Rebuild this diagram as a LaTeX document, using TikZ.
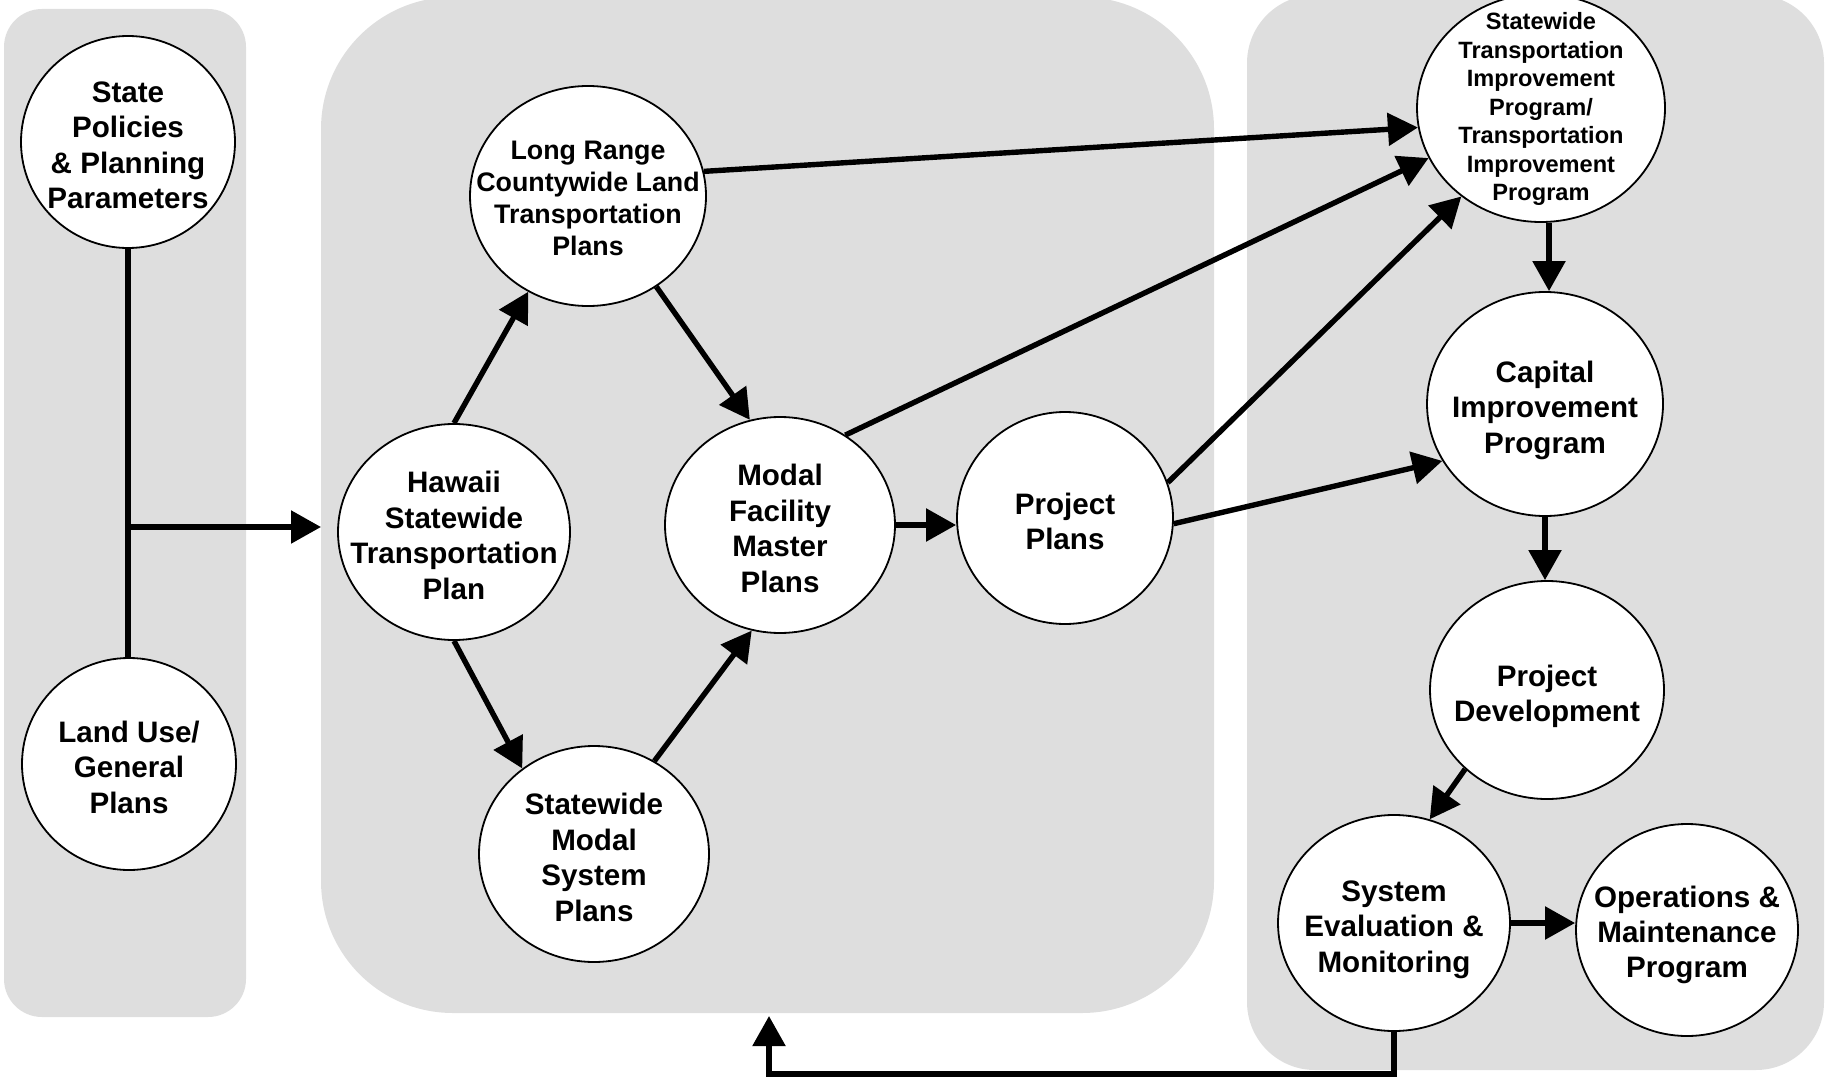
\documentclass[tikz,border=0pt]{standalone}
\usepackage{fontspec}
\setmainfont{Liberation Sans}
\usetikzlibrary{shapes.geometric,arrows.meta}
\definecolor{panelgray}{RGB}{222,222,222}
\begin{document}
\begin{tikzpicture}[x=0.5pt,y=-0.5pt,
  bub/.style 2 args={ellipse, draw=black, line width=0.9pt, fill=white,
    inner sep=0pt, minimum width=#1pt, minimum height=#2pt},
  txt/.style={font=\fontsize{14.8}{17.7}\selectfont\bfseries, align=center, inner sep=0pt, yshift=-1.7pt},
  txtsmall/.style={font=\fontsize{13.4}{16}\selectfont\bfseries, align=center, inner sep=0pt, yshift=-1pt},
  txttiny/.style={font=\fontsize{11.8}{14.25}\selectfont\bfseries, align=center, inner sep=0pt, yshift=-0.5pt},
  conn/.style={line width=2.7pt},
  arr/.style={conn, -{Triangle[length=15pt,width=16pt]}}
]
\useasboundingbox (0,0) rectangle (1831,1081);

% grey background panels
\begin{scope}
  \clip (0,0) rectangle (1831,1081);
  \fill[panelgray, rounded corners=19pt] (4,9) rectangle (246,1017);
  \fill[panelgray, rounded corners=66pt] (321,-3) rectangle (1214,1013);
  \fill[panelgray, rounded corners=34pt] (1247,-5) rectangle (1824,1070);
\end{scope}

% planning elements
\node[bub={107}{106}, label={[txt]center:{State\\Policies\\\& Planning\\Parameters}}] (sp) at (128,142) {};
\node[bub={107}{106}, label={[txt]center:{Land Use/\\General\\Plans}}] (lu) at (129,764) {};
\node[bub={118}{110}, label={[txtsmall]center:{Long Range\\Countywide Land\\Transportation\\Plans}}] (lr) at (588,196) {};
\node[bub={116}{108}, label={[txt]center:{Hawaii\\Statewide\\Transportation\\Plan}}] (hs) at (454,532) {};
\node[bub={115}{108}, label={[txt]center:{Statewide\\Modal\\System\\Plans}}] (sm) at (594,854) {};
\node[bub={115}{108}, label={[txt]center:{Modal\\Facility\\Master\\Plans}}] (mf) at (780,525) {};
\node[bub={108}{106}, label={[txt]center:{Project\\Plans}}] (pp) at (1065,518) {};
\node[bub={124}{114}, label={[txttiny]center:{Statewide\\Transportation\\Improvement\\Program/\\Transportation\\Improvement\\Program}}] (stip) at (1541,108) {};
\node[bub={118}{112}, label={[txt, yshift=-1.4pt]center:{Capital\\Improvement\\Program}}] (cip) at (1545,404) {};
\node[bub={117}{109}, label={[txt, yshift=-1.4pt]center:{Project\\Development}}] (pd) at (1547,690) {};
\node[bub={116}{108}, label={[txt, yshift=-1.6pt]center:{System\\Evaluation \&\\Monitoring}}] (se) at (1394,923) {};
\node[bub={111}{106}, label={[txt, yshift=-0.8pt]center:{Operations \&\\Maintenance\\Program}}] (om) at (1687,930) {};

% inputs feeding the statewide plan
\coordinate (jn) at (128,527);
\coordinate (midW) at (321,527);
\draw[conn] (sp.south) -- (sp.south |- lu.north);
\draw[arr] (jn) -- (midW);

% statewide and modal planning
\draw[arr] (hs.90) -- (lr.238);
\draw[arr] (lr.307) -- (mf.106);
\draw[arr] (hs.270) -- (sm.130);
\draw[arr] (sm.57) -- (mf.255);
\draw[arr] (mf.east) -- (mf.east -| pp.west);

% programming
\draw[arr] (lr.12) -- (stip.189);
\draw[arr] (mf.54) -- (stip.204);
\draw[arr] (pp.19) -- (stip.228);
\draw[arr] (pp.357) -- (cip.209);
\draw[arr] (stip.274) -- (stip.274 |- cip.north);
\draw[arr] (cip.south) -- (cip.south |- pd.north);
\draw[arr] (pd.224) -- (se.71);
\draw[arr] (se.east) -- (se.east -| om.west);

% feedback loop to the planning stage
\coordinate (fbY) at (0,1074);
\coordinate (midS) at (769,1016);
\draw[arr] (se.south) -- (se.south |- fbY) -| (midS);
\end{tikzpicture}
\end{document}
